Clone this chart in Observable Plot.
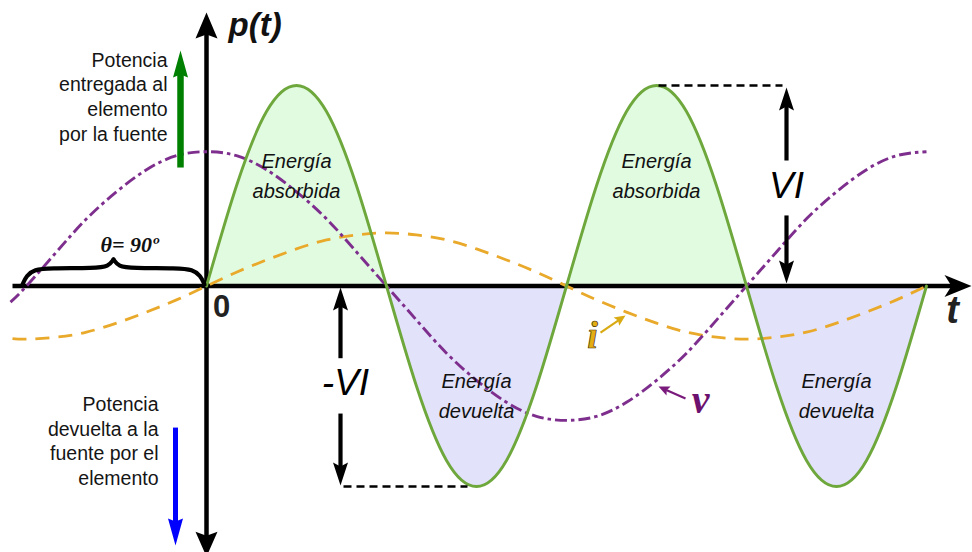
<!DOCTYPE html>
<html>
<head>
<meta charset="utf-8">
<script src="https://cdn.jsdelivr.net/npm/d3@7"></script>
<script src="https://cdn.jsdelivr.net/npm/@observablehq/plot@0.6"></script>
<style>
  html, body { margin: 0; padding: 0; background: #fff; }
  #chart svg { display: block; }
</style>
</head>
<body>
<div id="chart"></div>
<script>
// ωt in degrees, one sample every 15°
const tDeg = [0, 15, 30, 45, 60, 75, 90, 105, 120, 135, 150, 165, 180,
              195, 210, 225, 240, 255, 270, 285, 300, 315, 330, 345, 360];
// instantaneous power p(t), in units of VI
const pValues = [0, 0.5, 0.87, 1, 0.87, 0.5, 0, -0.5, -0.87, -1, -0.87, -0.5, 0,
                 0.5, 0.87, 1, 0.87, 0.5, 0, -0.5, -0.87, -1, -0.87, -0.5, 0];

// voltage v (leads the current by θ)
const vTimes = [-98, -90, -75, -60, -45, -30, -15, 0, 15, 30, 45, 60, 75, 90,
                105, 120, 135, 150, 165, 180, 195, 210, 225, 240, 255, 270,
                285, 300, 315, 330, 345, 360];
const vValues = [-0.08, 0, 0.17, 0.335, 0.47, 0.58, 0.65, 0.67, 0.65, 0.58, 0.47, 0.335, 0.17, 0,
                 -0.17, -0.335, -0.47, -0.58, -0.65, -0.67, -0.65, -0.58, -0.47, -0.335, -0.17, 0,
                 0.17, 0.335, 0.47, 0.58, 0.65, 0.67];

// current i
const iTimes = [-97, -90, -75, -60, -45, -30, -15, 0, 15, 30, 45, 60, 75, 90,
                105, 120, 135, 150, 165, 180, 195, 210, 225, 240, 255, 270,
                285, 300, 315, 330, 345, 360];
const iValues = [-0.262, -0.265, -0.255, -0.23, -0.185, -0.13, -0.069, 0, 0.069, 0.13, 0.185, 0.23, 0.255, 0.265,
                 0.255, 0.23, 0.185, 0.13, 0.069, 0, -0.069, -0.13, -0.185, -0.23, -0.255, -0.265,
                 -0.255, -0.23, -0.185, -0.13, -0.069, 0];

const theta = 90; // phase angle, degrees
const thetaLabel = "θ= 90º";
const pAxisLabel = "p(t)";
const tAxisLabel = "t";
const originLabel = "0";
const lobeLabels = ["Energía\nabsorbida", "Energía\ndevuelta"];
const sideNotes = ["Potencia\nentregada al\nelemento\npor la fuente",
                   "Potencia\ndevuelta a la\nfuente por el\nelemento"];
const curveNames = ["i", "v"];

// ---- tables ----
const pRows = tDeg.map((t, k) => ({t, p: pValues[k]}));
const vRows = vTimes.map((t, k) => ({t, v: vValues[k]}));
const iRows = iTimes.map((t, k) => ({t, v: iValues[k]}));
// each half cycle of p(t) becomes its own filled lobe
const lobes = [];
for (let k = 0; k < 4; ++k) {
  for (let j = 6 * k; j <= 6 * k + 6; ++j) lobes.push({t: tDeg[j], p: pValues[j], lobe: k});
}
const posLobes = lobes.filter(d => d.lobe % 2 === 0);
const negLobes = lobes.filter(d => d.lobe % 2 === 1);

const VI = d3.max(pValues);
const tPeak = tDeg[pValues.indexOf(VI)];              // first maximum
const tTrough = tDeg[pValues.indexOf(d3.min(pValues))]; // first minimum
const tPeak2 = tDeg[pValues.lastIndexOf(VI)];

// ---- scales ----
const W = 972, H = 552;
const xDomain = [-103, 383];
const yDomain = [-1.329, 1.424];
const xs = Plot.scale({x: {domain: xDomain, range: [0, W]}});
const ys = Plot.scale({y: {domain: yDomain, range: [H, 0]}});

// filled, notched arrowhead pointing along (ux, uy) with its tip at the origin
function headSymbol(ux, uy, len, half, notch) {
  return {
    draw(ctx) {
      const qx = -uy, qy = ux;
      ctx.moveTo(0, 0);
      ctx.lineTo(-len * ux + half * qx, -len * uy + half * qy);
      ctx.lineTo(-(len - notch) * ux, -(len - notch) * uy);
      ctx.lineTo(-len * ux - half * qx, -len * uy - half * qy);
      ctx.closePath();
    }
  };
}

// shaft + head marks for an arrow from (x1,y1) to (x2,y2)
function arrow(a) {
  const px1 = xs.apply(a.x1), py1 = ys.apply(a.y1);
  const px2 = xs.apply(a.x2), py2 = ys.apply(a.y2);
  const L = Math.hypot(px2 - px1, py2 - py1);
  const ux = (px2 - px1) / L, uy = (py2 - py1) / L;
  const back = a.len - a.notch - 0.5;
  const shaft = {x1: a.x1, y1: a.y1,
                 x2: xs.invert(px2 - ux * back), y2: ys.invert(py2 - uy * back)};
  return [
    Plot.link([shaft], {x1: "x1", y1: "y1", x2: "x2", y2: "y2",
      stroke: a.color, strokeWidth: a.width, strokeLinecap: "butt"}),
    Plot.dot([{x: a.x2, y: a.y2}], {x: "x", y: "y",
      symbol: headSymbol(ux, uy, a.len, a.half, a.notch),
      fill: a.color, stroke: "none"})
  ];
}

// horizontal curly brace spanning [t0, t1] just above the axis
function brace(t0, t1, base) {
  const m = (t0 + t1) / 2;
  const left = [[t0, base], [t0 + 2, base + 0.045], [t0 + 6, base + 0.075], [t0 + 13, base + 0.082],
                [m - 9, base + 0.082], [m - 2.5, base + 0.09], [m, base + 0.125]];
  const right = left.map(([t, p]) => [2 * m - t, p]).reverse();
  return [
    ...left.map(([t, p]) => ({t, p, side: "l"})),
    ...right.map(([t, p]) => ({t, p, side: "r"}))
  ];
}

const sans = "Liberation Sans, Arial, Helvetica, sans-serif";
const serif = "Liberation Serif, Times New Roman, serif";
const green = "#6ea83c", purple = "#7e2f8e", orange = "#e9a92b";

const chart = Plot.plot({
  width: W,
  height: H,
  margin: 0,
  x: {domain: xDomain, axis: null},
  y: {domain: yDomain, axis: null},
  style: {background: "white", overflow: "visible"},
  marks: [
    // energy lobes
    Plot.areaY(posLobes, {x: "t", y: "p", z: "lobe", fill: "#e1fbe1", curve: "natural"}),
    Plot.areaY(negLobes, {x: "t", y: "p", z: "lobe", fill: "#e2e2fa", curve: "natural"}),

    // axes
    ...arrow({x1: -97, y1: 0, x2: 382.5, y2: 0, len: 27, half: 11, notch: 7, width: 4.5, color: "#000"}),
    ...arrow({x1: 0, y1: 0, x2: 0, y2: 1.364, len: 26, half: 11, notch: 4, width: 4.5, color: "#000"}),
    ...arrow({x1: 0, y1: 0, x2: 0, y2: -1.35, len: 25, half: 11, notch: 4, width: 4.5, color: "#000"}),

    // current and voltage
    Plot.line(iRows, {x: "t", y: "v", stroke: orange, strokeWidth: 2.8,
      strokeDasharray: "14,9", strokeLinecap: "butt", curve: "natural"}),
    Plot.line(vRows, {x: "t", y: "v", stroke: purple, strokeWidth: 2.9,
      strokeDasharray: "12,4,3.5,4", strokeLinecap: "butt", curve: "natural"}),

    // power
    Plot.line(pRows, {x: "t", y: "p", stroke: green, strokeWidth: 2.9, curve: "natural"}),

    // amplitude guides
    Plot.link([{a: tPeak2 + 1, b: 288}], {x1: "a", x2: "b", y1: VI, y2: VI,
      stroke: "#000", strokeWidth: 2.5, strokeDasharray: "8,5"}),
    Plot.link([{a: 68.5, b: tTrough - 4.5}], {x1: "a", x2: "b", y1: -VI, y2: -VI,
      stroke: "#000", strokeWidth: 2.5, strokeDasharray: "8,5"}),
    ...arrow({x1: 290, y1: 0.626, x2: 290, y2: VI - 0.01, len: 23, half: 7.5, notch: 4, width: 4.2, color: "#000"}),
    ...arrow({x1: 290, y1: 0.352, x2: 290, y2: 0.012, len: 23, half: 7.5, notch: 4, width: 4.2, color: "#000"}),
    ...arrow({x1: 67, y1: -0.36, x2: 67, y2: -0.007, len: 23, half: 7.5, notch: 4, width: 4.2, color: "#000"}),
    ...arrow({x1: 67, y1: -0.636, x2: 67, y2: -VI + 0.005, len: 23, half: 7.5, notch: 4, width: 4.2, color: "#000"}),
    Plot.text(["VI"], {x: 290, y: VI / 2, text: d => d, fontFamily: sans, fontStyle: "italic",
      fontSize: 37, fill: "#000"}),
    Plot.text(["-VI"], {x: 69.5, y: -VI / 2 + 0.014, text: d => d, fontFamily: sans, fontStyle: "italic",
      fontSize: 37, fill: "#000"}),

    // direction of power flow
    ...arrow({x1: -13, y1: 0.591, x2: -13, y2: 1.175, len: 27, half: 7.5, notch: 3, width: 6.5, color: "#008000"}),
    ...arrow({x1: -15.5, y1: -0.706, x2: -15.5, y2: -1.294, len: 27, half: 7.5, notch: 3, width: 5, color: "#0000ff"}),
    Plot.text([sideNotes[0]], {x: -19.5, y: 0.948, text: d => d, textAnchor: "end", lineHeight: 1.28,
      fontFamily: sans, fontSize: 19.5, fill: "#151515"}),
    Plot.text([sideNotes[1]], {x: -24, y: -0.768, text: d => d, textAnchor: "end", lineHeight: 1.28,
      fontFamily: sans, fontSize: 19.5, fill: "#151515"}),

    // phase angle brace
    Plot.line(brace(-theta - 2, -1, 0.0075), {x: "t", y: "p", z: "side", stroke: "#000",
      strokeWidth: 4.2, curve: "basis", strokeLinecap: "round"}),
    Plot.text([thetaLabel], {x: -38.5, y: 0.207, text: d => d, fontFamily: serif,
      fontStyle: "italic", fontWeight: "bold", fontSize: 22, fill: "#111"}),

    // lobe captions
    Plot.text([tPeak, tPeak2], {x: d => d, y: 0.561, text: () => lobeLabels[0], lineHeight: 1.5,
      fontFamily: sans, fontStyle: "italic", fontSize: 20, fill: "#111"}),
    Plot.text([tTrough, tTrough + 180], {x: d => d, y: -0.534, text: () => lobeLabels[1], lineHeight: 1.5,
      fontFamily: sans, fontStyle: "italic", fontSize: 20, fill: "#111"}),

    // curve names
    ...arrow({x1: 197, y1: -0.232, x2: 209.5, y2: -0.147, len: 11, half: 5, notch: 2, width: 2.2, color: "#d9aa12"}),
    ...arrow({x1: 239.5, y1: -0.561, x2: 226, y2: -0.501, len: 11, half: 5, notch: 2, width: 2.2, color: "#7a1a7c"}),
    Plot.text([curveNames[0]], {x: 193, y: -0.247, text: d => d, fontFamily: serif, fontStyle: "italic",
      fontWeight: "bold", fontSize: 38, fill: "#e3ad14", stroke: "#3b2b00", strokeWidth: 0.7, paintOrder: "fill"}),
    Plot.text([curveNames[1]], {x: 247, y: -0.571, text: d => d, fontFamily: serif, fontStyle: "italic",
      fontWeight: "bold", fontSize: 40, fill: "#6c116e"}),

    // axis labels
    Plot.text([pAxisLabel], {x: 11, y: 1.30, text: d => d, textAnchor: "start", fontFamily: sans,
      fontStyle: "italic", fontWeight: "bold", fontSize: 33, fill: "#111"}),
    Plot.text([tAxisLabel], {x: 373, y: -0.122, text: d => d, fontFamily: sans,
      fontStyle: "italic", fontWeight: "bold", fontSize: 38, fill: "#222"}),
    Plot.text([originLabel], {x: 7.5, y: -0.107, text: d => d, fontFamily: sans,
      fontWeight: "bold", fontSize: 31, fill: "#222"})
  ]
});

document.getElementById("chart").append(chart);
</script>
</body>
</html>
